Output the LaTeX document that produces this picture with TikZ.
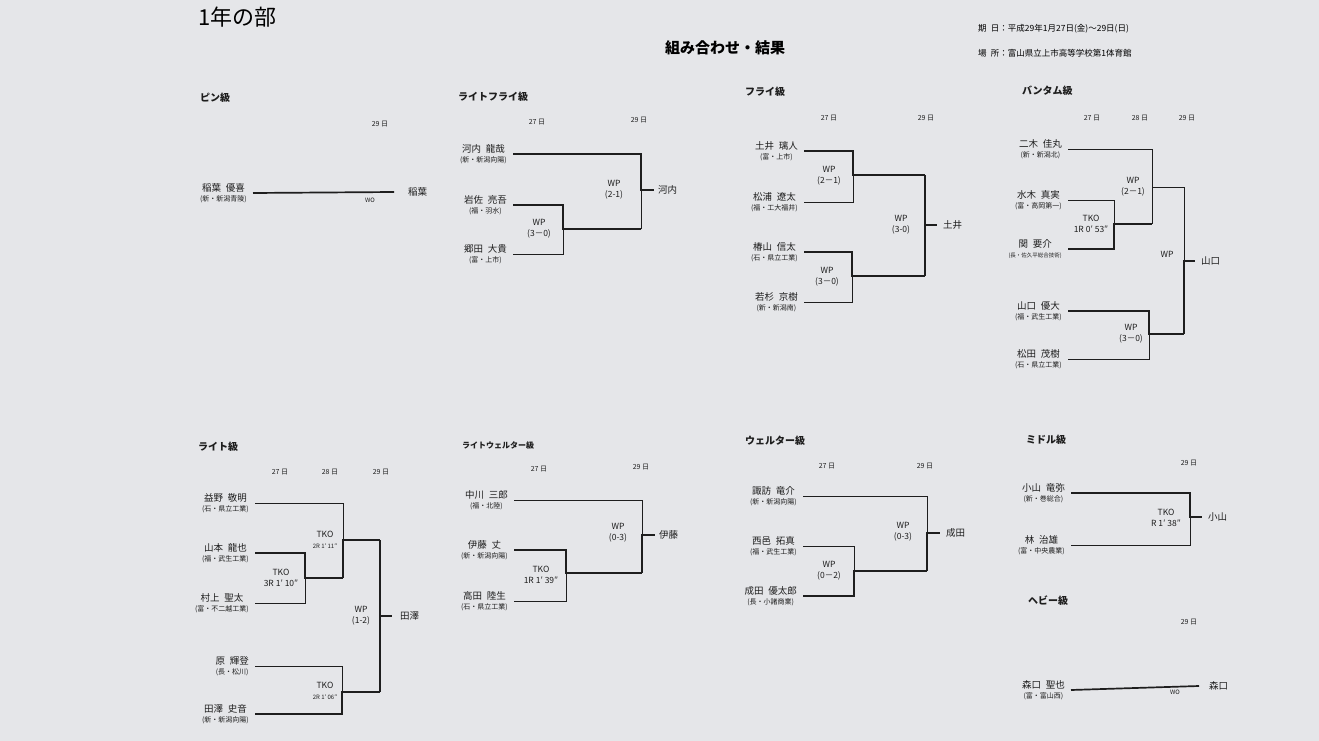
\documentclass[tikz,border=0pt]{standalone}
\usepackage{fontspec}
\setmainfont{Noto Sans CJK JP}
\usepackage{tikz}

\definecolor{paper}{RGB}{229,230,233}
\definecolor{ink}{RGB}{30,30,30}

\newcommand{\namefont}{\fontsize{9.5}{11}\selectfont}
\newcommand{\clubfont}{\fontsize{7}{8.5}\selectfont}

% one fighter: line start (#1) and name / club left of it
\newcommand{\fighter}[5]{%
  \coordinate (#1) at (#2,#3);
  \node[fname, anchor=east] (#1n) at ([xshift=-6pt]#1) {\namefont #4\\[-1.5pt]\clubfont #5};}

\tikzset{
  lose/.style={ink, line width=0.6pt},
  win/.style={ink, line width=1.7pt},
  fname/.style={inner sep=0pt, align=center, text=ink},
  res/.style={inner sep=0pt, align=center, text=ink, font=\fontsize{8.5}{11}\selectfont},
  day/.style={inner sep=0pt, text=ink, font=\fontsize{7}{8}\selectfont},
  head/.style={inner sep=0pt, anchor=west, text=ink, font=\fontsize{10}{12}\selectfont\bfseries},
  champ/.style={inner sep=0pt, anchor=west, text=ink, font=\namefont}
}

\begin{document}
\begin{tikzpicture}[x=1pt, y=-1pt]
    \fill[paper] (0,0) rectangle (1319,741);

    % titles
    \node[inner sep=0pt, anchor=west, font=\fontsize{22}{24}\selectfont] (title) at (198,17) {1年の部};
    \node[inner sep=0pt, font=\fontsize{15}{17}\selectfont\bfseries] (sub) at (725,48) {組み合わせ・結果};
    \node[inner sep=0pt, anchor=west, font=\fontsize{8.5}{10}\selectfont] (date) at (978,29) {期\enspace 日：平成29年1月27日(金)～29日(日)};
    \node[inner sep=0pt, anchor=west, font=\fontsize{8.5}{10}\selectfont] (place) at (978,53) {場\enspace 所：富山県立上市高等学校第1体育館};

    % ピン級
    \node[head] (h1) at (200,98) {ピン級};
    \node[day] at (380,124) {29 日};
    \fighter{p1}{253}{193}{稲葉\enspace 優喜}{(新・新潟青陵)}
    \coordinate (p1o) at (394,192);
    \draw[win] (p1) -- (p1o);
    \node[res] at (370,200) {\fontsize{6}{7}\selectfont WO};
    \node[champ] at ([xshift=14pt]p1o) {稲葉};

    % ライトフライ級
    \node[head] (h2) at (458,97) {ライトフライ級};
    \node[day] at (537,122) {27 日};
    \node[day] at (639,120) {29 日};
    \fighter{lf1}{513}{154}{河内\enspace 龍哉}{(新・新潟向陽)}
    \fighter{lf2}{513}{205}{岩佐\enspace 亮吾}{(福・羽水)}
    \fighter{lf3}{513}{254}{郷田\enspace 大貴}{(富・上市)}
    \coordinate (lfa) at (563,229);
    \coordinate (lfb) at (641,190);
    \draw[lose] (lf3) -| (lfa);
    \draw[win] (lf2) -| (lfa) -- (641,229);
    \draw[lose] (641,229) -- (lfb);
    \draw[win] (lf1) -| (lfb) -- ++(13,0) coordinate (lfo);
    \node[res] at (539,229) {WP\\(3－0)};
    \node[res] at (614,190) {WP\\(2-1)};
    \node[champ] at ([xshift=4pt]lfo) {河内};

    % フライ級
    \node[head] (h3) at (745,92) {フライ級};
    \node[day] at (829,118) {27 日};
    \node[day] at (926,118) {29 日};
    \fighter{f1}{804}{151}{土井\enspace 璃人}{(富・上市)}
    \fighter{f2}{804}{202}{松浦\enspace 遼太}{(福・工大福井)}
    \fighter{f3}{804}{252}{椿山\enspace 信太}{(石・県立工業)}
    \fighter{f4}{804}{302}{若杉\enspace 京樹}{(新・新潟南)}
    \coordinate (fa) at (853,175);
    \coordinate (fb) at (852,276);
    \coordinate (fc) at (925,225);
    \draw[lose] (f2) -| (fa);
    \draw[win] (f1) -| (fa) -- (925,175);
    \draw[lose] (f4) -| (fb);
    \draw[win] (f3) -| (fb) -- (925,276);
    \draw[win] (925,175) -- (925,276);
    \draw[win] (fc) -- ++(12,0) coordinate (fo);
    \node[res] at (829,176) {WP\\(2－1)};
    \node[res] at (827,277) {WP\\(3－0)};
    \node[res] at (901,225) {WP\\(3-0)};
    \node[champ] at ([xshift=6pt]fo) {土井};

    % バンタム級
    \node[head] (h4) at (1022,91) {バンタム級};
    \node[day] at (1092,118) {27 日};
    \node[day] at (1140,118) {28 日};
    \node[day] at (1187,118) {29 日};
    \fighter{b1}{1068}{149}{二木\enspace 佳丸}{(新・新潟北)}
    \fighter{b2}{1068}{200}{水木\enspace 真実}{(富・高岡第一)}
    \fighter{b3}{1068}{249}{関\enspace 要介}{\fontsize{5.5}{7}\selectfont(長・佐久平総合技術)}
    \fighter{b4}{1068}{311}{山口\enspace 優大}{(福・武生工業)}
    \fighter{b5}{1068}{359}{松田\enspace 茂樹}{(石・県立工業)}
    \coordinate (ba) at (1114,224);
    \coordinate (bb) at (1152,187);
    \coordinate (bc) at (1149,334);
    \coordinate (bd) at (1184,261);
    \draw[lose] (b2) -| (ba);
    \draw[win] (b3) -| (ba) -- (1152,224);
    \draw[lose] (b1) -| (bb) -- (1152,224);
    \draw[lose] (bb) -- (1184,187);
    \draw[lose] (b5) -| (bc);
    \draw[win] (b4) -| (bc) -- (1184,334);
    \draw[lose] (1184,187) -- (bd);
    \draw[win] (1184,334) -- (bd) -- ++(11,0) coordinate (bo);
    \node[res] at (1091,224) {TKO\\1R 0′ 53″};
    \node[res] at (1133,187) {WP\\(2－1)};
    \node[res] at (1131,334) {WP\\(3－0)};
    \node[res] at (1167,254) {WP};
    \node[champ] at ([xshift=6pt]bo) {山口};

    % ライト級
    \node[head] (h5) at (198,447) {ライト級};
    \node[day] at (280,472) {27 日};
    \node[day] at (330,472) {28 日};
    \node[day] at (381,472) {29 日};
    \fighter{l1}{255}{503}{益野\enspace 敬明}{(石・県立工業)}
    \fighter{l2}{255}{553}{山本\enspace 龍也}{(福・武生工業)}
    \fighter{l3}{255}{603}{村上\enspace 聖太}{(富・不二越工業)}
    \fighter{l4}{255}{666}{原\enspace 輝登}{(長・松川)}
    \fighter{l5}{255}{714}{田澤\enspace 史音}{(新・新潟向陽)}
    \coordinate (la) at (305,578);
    \coordinate (lb) at (343,540);
    \coordinate (lc) at (342,692);
    \coordinate (ld) at (380,616);
    \draw[lose] (l3) -| (la);
    \draw[win] (l2) -| (la) -- (343,578);
    \draw[lose] (l1) -| (lb);
    \draw[win] (343,578) -- (lb) -- (380,540);
    \draw[lose] (l4) -| (lc);
    \draw[win] (l5) -| (lc) -- (380,692);
    \draw[win] (380,540) -- (380,692);
    \draw[win] (ld) -- ++(12,0) coordinate (lo);
    \node[res] at (281,578) {TKO\\3R 1′ 10″};
    \node[res] at (325,540) {TKO\\{\fontsize{6}{7}\selectfont 2R 1′ 11″}};
    \node[res] at (325,691) {TKO\\{\fontsize{6}{7}\selectfont 2R 1′ 06″}};
    \node[res] at (361,616) {WP\\(1-2)};
    \node[champ] at ([xshift=8pt]lo) {田澤};

    % ライトウェルター級
    \node[head, font=\fontsize{8}{9}\selectfont\bfseries] (h6) at (462,445) {ライトウェルター級};
    \node[day] at (539,469) {27 日};
    \node[day] at (641,467) {29 日};
    \fighter{lw1}{514}{500}{中川\enspace 三郎}{(福・北陸)}
    \fighter{lw2}{514}{550}{伊藤\enspace 丈}{(新・新潟向陽)}
    \fighter{lw3}{514}{601}{高田\enspace 陸生}{(石・県立工業)}
    \coordinate (lwa) at (566,573);
    \coordinate (lwb) at (642,535);
    \draw[lose] (lw3) -| (lwa);
    \draw[win] (lw2) -| (lwa) -- (642,573);
    \draw[lose] (lw1) -| (lwb);
    \draw[win] (642,573) -- (lwb) -- ++(13,0) coordinate (lwo);
    \node[res] at (541,575) {TKO\\1R 1′ 39″};
    \node[res] at (618,533) {WP\\(0-3)};
    \node[champ] at ([xshift=4pt]lwo) {伊藤};

    % ウェルター級
    \node[head] (h7) at (745,441) {ウェルター級};
    \node[day] at (827,466) {27 日};
    \node[day] at (925,466) {29 日};
    \fighter{w1}{803}{496}{諏訪\enspace 竜介}{(新・新潟向陽)}
    \fighter{w2}{803}{546}{西邑\enspace 拓真}{(福・武生工業)}
    \fighter{w3}{803}{596}{成田\enspace 優太郎}{(長・小諸商業)}
    \coordinate (wa) at (854,571);
    \coordinate (wb) at (927,533);
    \draw[lose] (w2) -| (wa);
    \draw[win] (w3) -| (wa) -- (927,571);
    \draw[lose] (w1) -| (wb);
    \draw[win] (927,571) -- (wb) -- ++(13,0) coordinate (wo);
    \node[res] at (829,571) {WP\\(0－2)};
    \node[res] at (903,532) {WP\\(0-3)};
    \node[champ] at ([xshift=6pt]wo) {成田};

    % ミドル級
    \node[head] (h8) at (1026,440) {ミドル級};
    \node[day] at (1189,463) {29 日};
    \fighter{m1}{1071}{493}{小山\enspace 竜弥}{(新・巻総合)}
    \fighter{m2}{1071}{545}{林\enspace 治雄}{(富・中央農業)}
    \coordinate (ma) at (1190,517);
    \draw[lose] (m2) -| (ma);
    \draw[win] (m1) -| (ma) -- ++(12,0) coordinate (mo);
    \node[res] at (1166,518) {TKO\\R 1′ 38″};
    \node[champ] at ([xshift=6pt]mo) {小山};

    % ヘビー級
    \node[head] (h9) at (1028,601) {ヘビー級};
    \node[day] at (1189,622) {29 日};
    \fighter{hv1}{1071}{690}{森口\enspace 聖也}{(富・富山西)}
    \coordinate (hvo) at (1199,686);
    \draw[win] (hv1) -- (hvo);
    \node[res] at (1175,692) {\fontsize{6}{7}\selectfont WO};
    \node[champ] at ([xshift=10pt]hvo) {森口};
\end{tikzpicture}
\end{document}
